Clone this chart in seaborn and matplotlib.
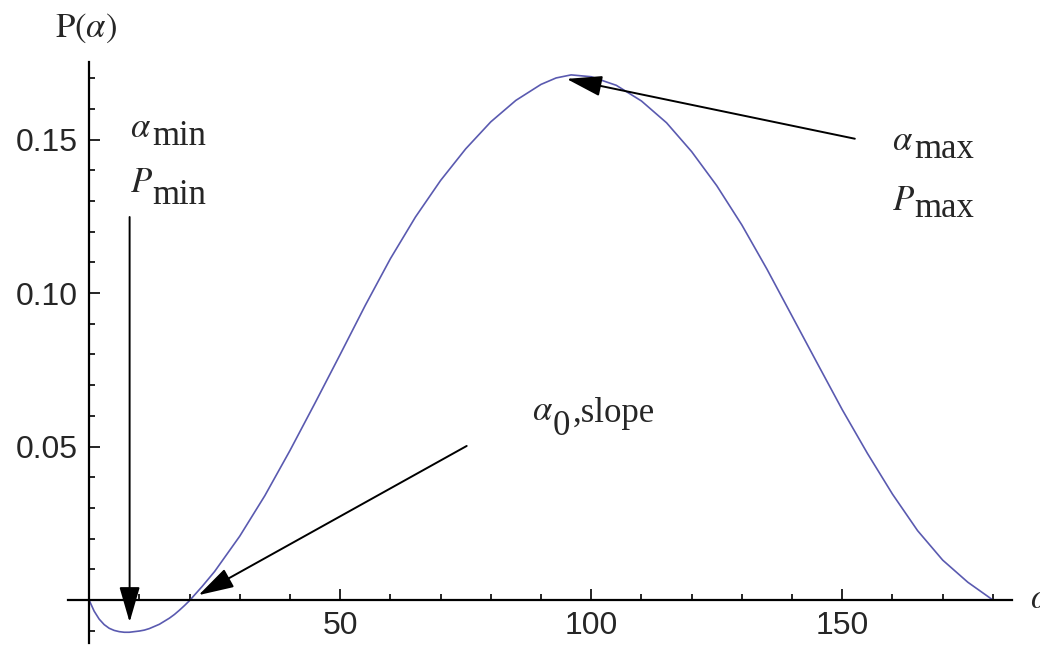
import matplotlib
matplotlib.use("Agg")
import matplotlib.pyplot as plt
import seaborn as sns
import pandas as pd

# ---- data ----
alpha = [0, 1, 2, 3, 4, 5, 6, 7, 8, 9, 10, 11, 12, 13, 14, 15, 16, 17, 18, 19,
         20, 22.5, 25, 30, 35, 40, 45, 50, 55, 60, 65, 70, 75, 80, 85, 90, 93,
         96, 100, 105, 110, 115, 120, 125, 130, 135, 140, 145, 150, 155, 160,
         165, 170, 175, 180]
P = [0.0, -0.0036, -0.0062, -0.0080, -0.0092, -0.0099, -0.0103, -0.0105,
     -0.0105, -0.0103, -0.0101, -0.0098, -0.0093, -0.0086, -0.0079, -0.0069,
     -0.0059, -0.0047, -0.0033, -0.0018, -0.0002, 0.0044, 0.0093, 0.0208,
     0.0340, 0.0487, 0.0642, 0.0800, 0.0960, 0.1112, 0.1248, 0.1367, 0.1470,
     0.1558, 0.1628, 0.1680, 0.1701, 0.1711, 0.1705, 0.1677, 0.1626, 0.1555,
     0.1461, 0.1350, 0.1222, 0.1078, 0.0925, 0.0772, 0.0620, 0.0478, 0.0345,
     0.0226, 0.0130, 0.0058, 0.0]
x_major = [50, 100, 150]
x_minor = [10, 20, 30, 40, 60, 70, 80, 90, 110, 120, 130, 140, 160, 170, 180]
y_major = [0.05, 0.10, 0.15]
y_major_labels = ["0.05", "0.10", "0.15"]
y_minor = [-0.01, 0.01, 0.02, 0.03, 0.04, 0.06, 0.07, 0.08, 0.09,
           0.11, 0.12, 0.13, 0.14, 0.16, 0.17]

sns.set_style("white")
plt.rcParams["font.family"] = ["Liberation Sans", "DejaVu Sans"]
plt.rcParams["mathtext.fontset"] = "stix"

df = pd.DataFrame({"alpha": alpha, "P": P})

fig = plt.figure(figsize=(10.4, 6.46), dpi=100)
ax = fig.add_axes([68 / 1040, 3 / 646, 944 / 1040, 581 / 646])

sns.lineplot(data=df, x="alpha", y="P", ax=ax, color="#5a5ab0", lw=1.2)

ax.set_xlim(-4.2, 183.8)
ax.set_ylim(-0.014, 0.1753)

for s in ["top", "right"]:
    ax.spines[s].set_visible(False)
ax.spines["left"].set_position(("data", 0))
ax.spines["bottom"].set_position(("data", 0))
for s in ["left", "bottom"]:
    ax.spines[s].set_linewidth(1.6)
    ax.spines[s].set_color("black")

ax.set_xticks(x_major)
ax.set_xticks(x_minor, minor=True)
ax.set_yticks(y_major)
ax.set_yticklabels(y_major_labels)
ax.set_yticks(y_minor, minor=True)
ax.tick_params(which="both", direction="in", color="black", width=1.2,
               bottom=True, left=True, top=False, right=False)
ax.tick_params(which="major", length=8)
ax.tick_params(which="minor", length=4.5)
ax.tick_params(axis="x", which="major", pad=8, labelsize=23)
ax.tick_params(axis="y", which="major", pad=8, labelsize=23)
ax.set_xlabel("")
ax.set_ylabel("")

serif = "Liberation Serif"
fs = 25

# axis labels
ax.text(-6.87, 0.1835, r"$\mathrm{P}(\alpha)$", fontsize=fs, ha="left", va="baseline")
ax.text(187.3, -0.0026, r"$\alpha$", fontsize=fs, ha="left", va="baseline")

# annotation labels (main symbol + same-size subscript)
ax.text(8.07, 0.1509, r"$\alpha$", fontsize=fs, ha="left", va="baseline")
ax.text(12.6, 0.1483, "min", fontsize=fs, family=serif, ha="left", va="baseline")
ax.text(8.07, 0.1330, r"$P$", fontsize=fs, ha="left", va="baseline")
ax.text(12.6, 0.1291, "min", fontsize=fs, family=serif, ha="left", va="baseline")

ax.text(159.9, 0.1467, r"$\alpha$", fontsize=fs, ha="left", va="baseline")
ax.text(164.3, 0.1441, "max", fontsize=fs, family=serif, ha="left", va="baseline")
ax.text(159.9, 0.1271, r"$P$", fontsize=fs, ha="left", va="baseline")
ax.text(164.3, 0.1248, "max", fontsize=fs, family=serif, ha="left", va="baseline")

ax.text(88.3, 0.0587, r"$\alpha$", fontsize=fs, ha="left", va="baseline")
ax.text(92.3, 0.0538, "0", fontsize=fs, family=serif, ha="left", va="baseline")
ax.text(96.3, 0.0580, ",slope", fontsize=fs, family=serif, ha="left", va="baseline")

arrow = dict(arrowstyle="-|>,head_length=1.1,head_width=0.32", mutation_scale=20,
             lw=1.4, color="black", shrinkA=0, shrinkB=0)
ax.annotate("", xy=(8.07, -0.0072), xytext=(8.07, 0.1248), arrowprops=arrow)
ax.annotate("", xy=(21.8, 0.0016), xytext=(75.2, 0.0502), arrowprops=arrow)
ax.annotate("", xy=(95.1, 0.1698), xytext=(152.5, 0.1503), arrowprops=arrow)

fig.savefig("out.png", dpi=100)
